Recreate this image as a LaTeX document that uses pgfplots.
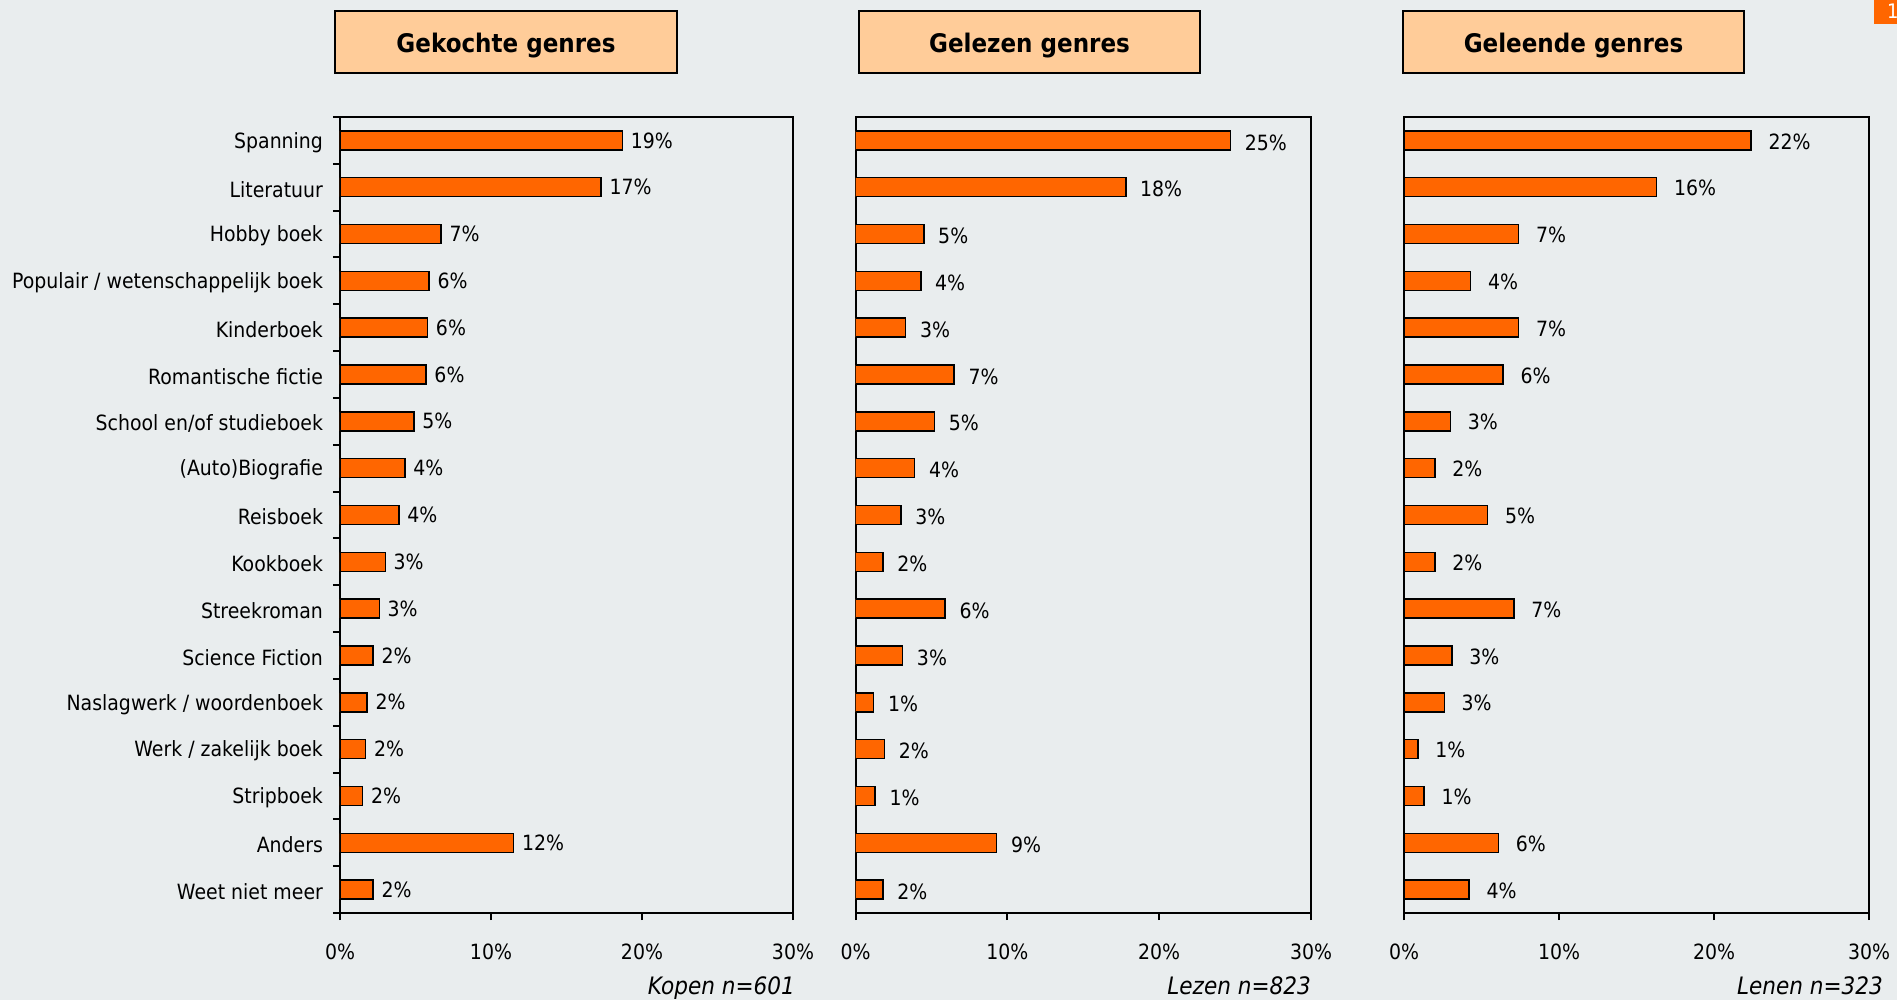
\documentclass[border=0pt]{standalone}
\usepackage{fontspec}
\setmainfont{DejaVu Sans}[FakeStretch=0.9]
\usepackage{pgfplots}
\pgfplotsset{compat=1.18}
\usepackage{pgfplotstable}

\definecolor{bg}{HTML}{E9EDEE}
\definecolor{barorange}{HTML}{FF6600}
\definecolor{head}{HTML}{FFCC99}

% idx = category (0 = top), val = bar length in %, lab = printed label
\pgfplotstableread{
idx val lab
0 18.7 19
1 17.3 17
2 6.7 7
3 5.9 6
4 5.8 6
5 5.7 6
6 4.9 5
7 4.3 4
8 3.9 4
9 3.0 3
10 2.6 3
11 2.2 2
12 1.8 2
13 1.7 2
14 1.5 2
15 11.5 12
16 2.2 2
}\kopen

\pgfplotstableread{
idx val lab
0 24.7 25
1 17.8 18
2 4.5 5
3 4.3 4
4 3.3 3
5 6.5 7
6 5.2 5
7 3.9 4
8 3.0 3
9 1.8 2
10 5.9 6
11 3.1 3
12 1.2 1
13 1.9 2
14 1.3 1
15 9.3 9
16 1.8 2
}\lezen

\pgfplotstableread{
idx val lab
0 22.4 22
1 16.3 16
2 7.4 7
3 4.3 4
4 7.4 7
5 6.4 6
6 3.0 3
7 2.0 2
8 5.4 5
9 2.0 2
10 7.1 7
11 3.1 3
12 2.6 3
13 0.9 1
14 1.3 1
15 6.1 6
16 4.2 4
}\lenen

\pgfplotsset{
  panel/.style={
    anchor=south west, scale only axis,
    height=398pt,
    xbar, bar width=9.5pt,
    xmin=0, xmax=30, ymin=-0.5, ymax=16.5, y dir=reverse,
    axis line style={line width=1pt},
    xtick={0,10,20,30}, xticklabels={0\%,10\%,20\%,30\%},
    minor xtick={0,10,20,30},
    xtick pos=bottom, ytick pos=left,
    tick align=outside,
    major tick length=0pt, minor tick length=3.5pt,
    every tick/.style={black, line width=1pt},
    minor tick style={black, line width=1pt},
    ticklabel style={font=\fontsize{10.5}{12}\selectfont},
    xticklabel style={yshift=-12pt},
    ytick=\empty,
    point meta=explicit symbolic,
    nodes near coords={\pgfplotspointmeta\%},
    every node near coord/.append style={font=\fontsize{10.5}{12}\selectfont, black, anchor=west},
  },
  orangebar/.style={fill=barorange, draw=black, line width=0.75pt},
}

\begin{document}
\begin{tikzpicture}
\fill[bg] (0pt,0pt) rectangle (948.5pt,500pt);
\path[use as bounding box] (0pt,0pt) rectangle (948.5pt,500pt);

% panel titles
\draw[fill=head, line width=0.8pt] (167.5pt,463.5pt) rectangle (338.5pt,494.6pt);
\node[anchor=base, font=\bfseries\fontsize{12.8}{14}\selectfont] at (253pt,473.7pt) {Gekochte genres};
\draw[fill=head, line width=0.8pt] (429.5pt,463.5pt) rectangle (600pt,494.6pt);
\node[anchor=base, font=\bfseries\fontsize{12.8}{14}\selectfont] at (514.75pt,473.7pt) {Gelezen genres};
\draw[fill=head, line width=0.8pt] (701.5pt,463.5pt) rectangle (872pt,494.6pt);
\node[anchor=base, font=\bfseries\fontsize{12.8}{14}\selectfont] at (786.75pt,473.7pt) {Geleende genres};

\begin{axis}[panel, at={(170pt,43.5pt)}, width=226.5pt,
    ytick={0,...,16},
    minor ytick={-0.5,0.5,...,16.5},
    yticklabels={Spanning, Literatuur, Hobby boek~, Populair / wetenschappelijk boek,
      Kinderboek, Romantische fictie, School en/of studieboek, (Auto)Biografie,
      Reisboek, Kookboek, Streekroman, Science Fiction, Naslagwerk / woordenboek,
      Werk / zakelijk boek, Stripboek, Anders, Weet niet meer},
    yticklabel style={xshift=-5pt, yshift=-1pt},
    every node near coord/.append style={xshift=0.5pt}]
  \addplot[orangebar] table[x=val, y=idx, meta=lab] {\kopen};
\end{axis}

\begin{axis}[panel, at={(427.75pt,43.5pt)}, width=227.75pt,
    every node near coord/.append style={xshift=3.5pt, yshift=-1pt}]
  \addplot[orangebar] table[x=val, y=idx, meta=lab] {\lezen};
\end{axis}

\begin{axis}[panel, at={(702pt,43.5pt)}, width=232.5pt,
    every node near coord/.append style={xshift=5pt, yshift=-0.5pt}]
  \addplot[orangebar] table[x=val, y=idx, meta=lab] {\lenen};
\end{axis}

% sample sizes
\node[anchor=base east, font=\itshape\fontsize{12}{14}\selectfont] at (401pt,2.5pt) {Kopen n=601};
\node[anchor=base east, font=\itshape\fontsize{12}{14}\selectfont] at (659pt,2.5pt) {Lezen n=823};
\node[anchor=base east, font=\itshape\fontsize{12}{14}\selectfont] at (945pt,2.5pt) {Lenen n=323};

% page marker, cut by the page edge
\fill[barorange] (937pt,488pt) rectangle (948.5pt,500pt);
\node[anchor=base west, inner sep=0pt, text=white, font=\fontsize{10}{12}\selectfont] at (943.3pt,490.5pt) {1};
\end{tikzpicture}
\end{document}
